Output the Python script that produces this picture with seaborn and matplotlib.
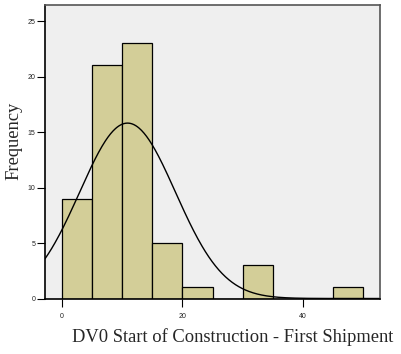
import numpy as np
import pandas as pd
import matplotlib
matplotlib.use("Agg")
import matplotlib.pyplot as plt
import seaborn as sns

# Histogram bins (days) and observed frequencies
bin_edges = [0, 5, 10, 15, 20, 25, 30, 35, 40, 45, 50]
counts = [9, 21, 23, 5, 1, 0, 3, 0, 0, 1]

# Fitted normal curve parameters
mean_days = 10.9
sd_days = 7.95

x_ticks = [0, 20, 40]
y_ticks = [0, 5, 10, 15, 20, 25]

sns.set_theme(style="white")
plt.rcParams["font.family"] = ["Liberation Sans", "DejaVu Sans"]

fig = plt.figure(figsize=(4.02, 3.54), dpi=100)
ax = fig.add_axes([45 / 402, 1 - 298.5 / 354, 335 / 402, 293.5 / 354])
ax.set_facecolor("#EFEFEF")

mids = [(a + b) / 2 for a, b in zip(bin_edges[:-1], bin_edges[1:])]
df = pd.DataFrame({"value": mids, "count": counts})
sns.histplot(data=df, x="value", weights="count", bins=bin_edges, ax=ax,
             color="#D3CE98", alpha=1.0, edgecolor="black", linewidth=0.9)

n = sum(counts)
width = bin_edges[1] - bin_edges[0]
xs = np.linspace(-2.8, 52.8, 400)
ys = n * width / (sd_days * np.sqrt(2 * np.pi)) * np.exp(-0.5 * ((xs - mean_days) / sd_days) ** 2)
sns.lineplot(x=xs, y=ys, ax=ax, color="black", linewidth=1.0)

ax.set_xlim(-2.8, 52.8)
ax.set_ylim(0, 26.45)
ax.set_xticks(x_ticks)
ax.set_yticks(y_ticks)
ax.tick_params(axis="both", which="both", direction="out", length=5.5, width=0.8,
               colors="black", labelsize=5, bottom=True, left=True)
ax.tick_params(axis="y", pad=1.5)
ax.tick_params(axis="x", pad=5)
for lbl in ax.get_xticklabels() + ax.get_yticklabels():
    lbl.set_color("#222222")

for side in ["left", "bottom"]:
    ax.spines[side].set_color("black")
    ax.spines[side].set_linewidth(1.2)
for side in ["top", "right"]:
    ax.spines[side].set_color("#555555")
    ax.spines[side].set_linewidth(1.2)

ax.set_xlabel("DV0 Start of Construction - First Shipment", family="Liberation Serif",
              fontsize=13.3)
ax.set_ylabel("Frequency", family="Liberation Serif", fontsize=13.3)
ax.xaxis.set_label_coords(0.561, -0.1)
ax.yaxis.set_label_coords(-0.066, 0.537)

fig.savefig("out.png", dpi=100, facecolor="white")
